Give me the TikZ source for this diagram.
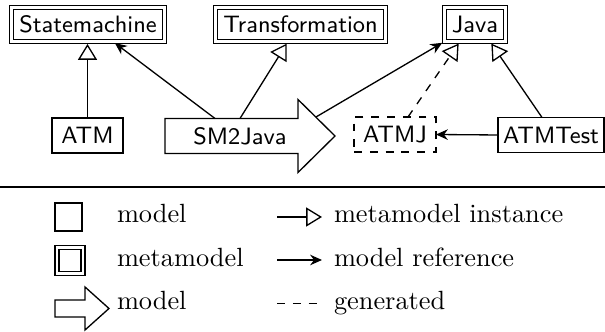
\documentclass[tikz,border=0pt]{standalone}
\usetikzlibrary{arrows.meta,calc}
\begin{document}
\begin{tikzpicture}[x=0.3795pt,y=-0.3795pt,line width=0.5pt,
  every node/.style={inner sep=0pt,outer sep=0pt},
  box/.style={draw,font=\small\sffamily,minimum height=13.3pt},
  metabox/.style={box,double,double distance=1pt,minimum height=13pt},
  genbox/.style={box,dashed},
  inst/.style={-{Triangle[open,length=6pt,width=7.2pt]}},
  ref/.style={-{Stealth[length=4.5pt,width=4pt]}},
  lbl/.style={anchor=base west,font=\normalsize\rmfamily}]
\useasboundingbox (0,0) rectangle (605,332);

% metamodels
\node[metabox,minimum width=58.1pt] (sm)   at (88,24.5)    {Statemachine};
\node[metabox,minimum width=64.6pt] (tr)   at (300.5,24.5) {Transformation};
\node[metabox,minimum width=23.3pt] (java) at (475,24.5)   {Java};

% models
\node[box,minimum width=26.9pt]    (atm)  at (87.5,135.5) {ATM};
\node[genbox,minimum width=31.1pt] (atmj) at (395,134.5)  {ATMJ};
\node[box,minimum width=40.2pt]    (atmt) at (551,135)    {ATMTest};

% transformation arrow
\draw (165,118.5) -- (298,118.5) -- (298,99.5) -- (335,136)
      -- (298,172.5) -- (298,153.5) -- (165,153.5) -- cycle;
\node[font=\small\sffamily] (sm2java) at (240,136) {SM2Java};

% connectors
\draw[inst,shorten >=0.9pt] (atm.north) -- (atm.north |- sm.south);
\draw[ref,shorten >=0.9pt] ($(sm2java)+(-25,-17.5)$) -- ($(sm.south)+(25,0)$);
\draw[inst,shorten >=0.9pt] ($(sm2java)+(0,-17.5)$) -- ($(tr.south)+(-12.5,0)$);
\draw[ref,shorten >=0.9pt] ($(sm2java)+(76,-19)$) -- (java.south west);
\draw[inst,dashed,shorten >=0.9pt] ($(atmj.north)+(13,0)$) -- ($(java.south)+(-15,0)$);
\draw[inst,shorten >=0.9pt] ($(atmt.north)+(-9,0)$) -- ($(java.south)+(15,0)$);
\draw[ref] (atmt.west) -- (atmj.east);

% separator
\draw (0,187) -- (605,187);

% legend
\node[draw,minimum width=10.2pt,minimum height=10.6pt] (lgmodel) at (68.5,217) {};
\node[draw,double,double distance=1pt,minimum size=9.9pt] (lgmeta) at (70,260.5) {};
\draw (55,300) -- (85,300) -- (85,287) -- (109,308.5) -- (85,330) -- (85,317) -- (55,317) -- cycle;

\node[lbl] (tmodel) at (117,223)   {model};
\node[lbl] (tmeta)  at (117,266.5) {metamodel};
\node[lbl] (ttrans) at (117,310)   {model};

\coordinate (i0) at (277,217);   \coordinate (i1) at (322,217);
\coordinate (r0) at (277,260);   \coordinate (r1) at (322,260);
\coordinate (g0) at (277,303.5); \coordinate (g1) at (322,303.5);
\draw[inst] (i0) -- (i1);
\draw[ref] (r0) -- (r1);
\draw[dashed] (g0) -- (g1);

\node[lbl] (tinst) at (334,223)   {metamodel instance};
\node[lbl] (tref)  at (334,266.5) {model reference};
\node[lbl] (tgen)  at (334,310)   {generated};
\end{tikzpicture}
\end{document}
